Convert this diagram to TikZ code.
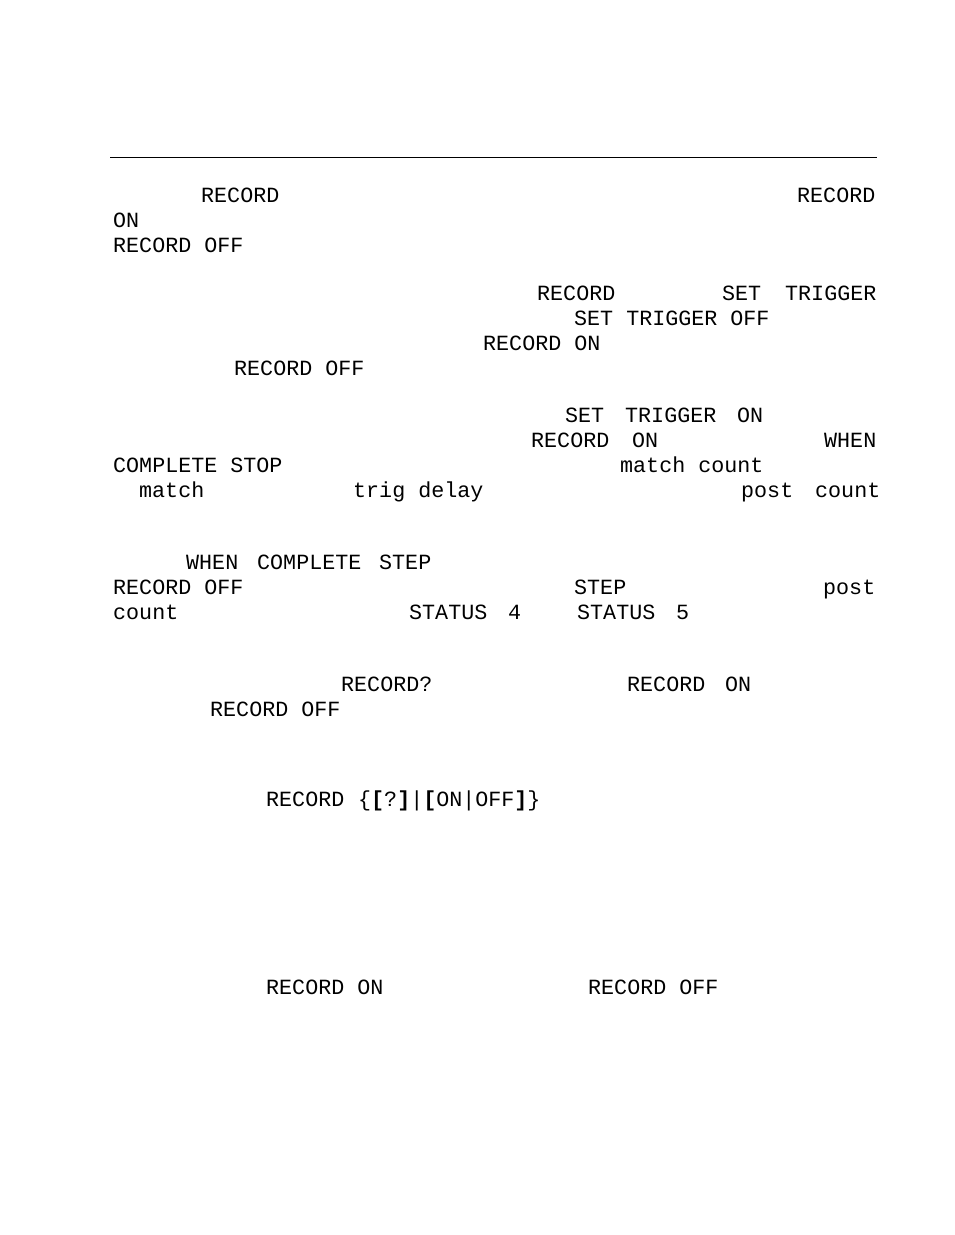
\documentclass[tikz,border=0pt]{standalone}
\usepackage{fontspec}
\setmonofont{Liberation Mono}
\tikzset{word/.style={anchor=base west,inner sep=0pt,font=\ttfamily\fontsize{21.7}{25}\selectfont}}
\begin{document}
\begin{tikzpicture}[x=1pt,y=-1pt]
\useasboundingbox (0,0) rectangle (954,1235);
\draw[line width=1pt] (110,157) coordinate (rl) -- (877,157) coordinate (rr);

\foreach \x/\y/\t [count=\i] in {
 201/202/RECORD, 797/202/RECORD, 113/227/ON, 113/252/RECORD OFF,
 537/300/RECORD, 722/300/SET, 785/300/TRIGGER, 574/325/SET TRIGGER OFF,
 483/350/RECORD ON, 234/375/RECORD OFF,
 565/422/SET, 625/422/TRIGGER, 737/422/ON,
 531/447/RECORD, 632/447/ON, 824/447/WHEN,
 113/472/COMPLETE STOP, 620/472/match count,
 139/497/match, 353/497/trig delay, 741/497/post, 815/497/count,
 186/569/WHEN, 257/569/COMPLETE, 379/569/STEP,
 113/594/RECORD OFF, 574/594/STEP, 823/594/post,
 113/619/count, 409/619/STATUS, 508/619/4, 577/619/STATUS, 676/619/5,
 341/691/RECORD?, 627/691/RECORD, 725/691/ON, 210/716/RECORD OFF,
 266/806/RECORD,
 266/994/RECORD ON, 588/994/RECORD OFF}
 \node[word] (w\i) at (\x,\y) {\t};

\node[word] (syntax) at (358,806) {\{\textbf{[}?\textbf{]}|\textbf{[}ON|OFF\textbf{]}\}};
\end{tikzpicture}
\end{document}
